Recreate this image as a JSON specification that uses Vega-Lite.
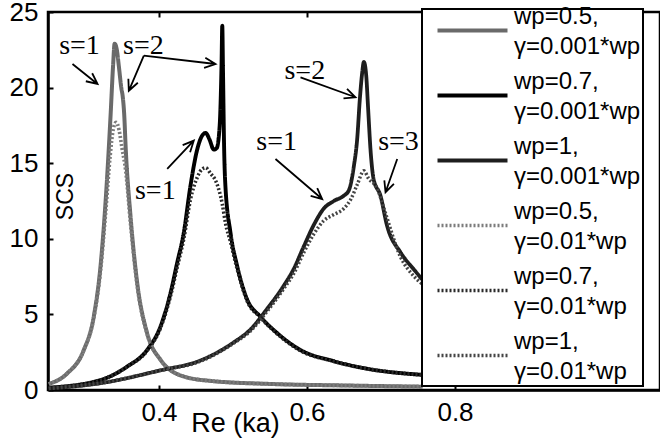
{
  "$schema": "https://vega.github.io/schema/vega-lite/v6.json",
  "autosize": {"type": "none"},
  "padding": {"left": 48, "top": 12, "right": 0, "bottom": 52},
  "width": 612,
  "height": 378,
  "background": "white",
  "config": {
    "view": {"stroke": "black", "strokeWidth": 2.5},
    "axis": {
      "labelFont": "Liberation Sans", "labelFontSize": 26, "labelColor": "black",
      "titleFont": "Liberation Sans", "titleFontSize": 25, "titleFontWeight": "normal", "titleColor": "black",
      "domainColor": "black", "domainWidth": 2.5, "tickColor": "black", "tickWidth": 2, "tickSize": -5, "grid": false
    },
    "legend": {
      "orient": "none", "legendX": 374, "legendY": -3,
      "fillColor": "white", "strokeColor": "black", "padding": 2,
      "symbolType": "M-2,0H2", "symbolSize": 1225, "symbolOffset": 29,
      "labelFont": "Liberation Sans", "labelFontSize": 24, "labelColor": "black",
      "labelOffset": 46, "rowPadding": 10, "labelLimit": 400
    }
  },
  "datasets": {
    "curves": [
      {"s": "wp=0.5, γ=0.001*wp", "x": 0.251, "y": 0.4},
      {"s": "wp=0.5, γ=0.001*wp", "x": 0.276, "y": 1.1},
      {"s": "wp=0.5, γ=0.001*wp", "x": 0.298, "y": 2.6},
      {"s": "wp=0.5, γ=0.001*wp", "x": 0.312, "y": 4.9},
      {"s": "wp=0.5, γ=0.001*wp", "x": 0.321, "y": 8.2},
      {"s": "wp=0.5, γ=0.001*wp", "x": 0.328, "y": 12.6},
      {"s": "wp=0.5, γ=0.001*wp", "x": 0.3345, "y": 18.1},
      {"s": "wp=0.5, γ=0.001*wp", "x": 0.338, "y": 21.5},
      {"s": "wp=0.5, γ=0.001*wp", "x": 0.340, "y": 22.9},
      {"s": "wp=0.5, γ=0.001*wp", "x": 0.343, "y": 22.5},
      {"s": "wp=0.5, γ=0.001*wp", "x": 0.346, "y": 21.3},
      {"s": "wp=0.5, γ=0.001*wp", "x": 0.349, "y": 20.0},
      {"s": "wp=0.5, γ=0.001*wp", "x": 0.351, "y": 19.4},
      {"s": "wp=0.5, γ=0.001*wp", "x": 0.353, "y": 18.2},
      {"s": "wp=0.5, γ=0.001*wp", "x": 0.355, "y": 16.0},
      {"s": "wp=0.5, γ=0.001*wp", "x": 0.3615, "y": 11.5},
      {"s": "wp=0.5, γ=0.001*wp", "x": 0.3705, "y": 7.1},
      {"s": "wp=0.5, γ=0.001*wp", "x": 0.384, "y": 3.75},
      {"s": "wp=0.5, γ=0.001*wp", "x": 0.402, "y": 2.0},
      {"s": "wp=0.5, γ=0.001*wp", "x": 0.433, "y": 0.9},
      {"s": "wp=0.5, γ=0.001*wp", "x": 0.47, "y": 0.6},
      {"s": "wp=0.5, γ=0.001*wp", "x": 0.55, "y": 0.4},
      {"s": "wp=0.5, γ=0.001*wp", "x": 0.65, "y": 0.3},
      {"s": "wp=0.5, γ=0.001*wp", "x": 0.756, "y": 0.22},

      {"s": "wp=0.7, γ=0.001*wp", "x": 0.251, "y": 0.15},
      {"s": "wp=0.7, γ=0.001*wp", "x": 0.321, "y": 0.66},
      {"s": "wp=0.7, γ=0.001*wp", "x": 0.357, "y": 1.55},
      {"s": "wp=0.7, γ=0.001*wp", "x": 0.384, "y": 2.65},
      {"s": "wp=0.7, γ=0.001*wp", "x": 0.402, "y": 4.2},
      {"s": "wp=0.7, γ=0.001*wp", "x": 0.4155, "y": 6.4},
      {"s": "wp=0.7, γ=0.001*wp", "x": 0.4245, "y": 8.4},
      {"s": "wp=0.7, γ=0.001*wp", "x": 0.4335, "y": 10.4},
      {"s": "wp=0.7, γ=0.001*wp", "x": 0.4425, "y": 13.5},
      {"s": "wp=0.7, γ=0.001*wp", "x": 0.4516, "y": 15.9},
      {"s": "wp=0.7, γ=0.001*wp", "x": 0.458, "y": 16.8},
      {"s": "wp=0.7, γ=0.001*wp", "x": 0.463, "y": 17.0},
      {"s": "wp=0.7, γ=0.001*wp", "x": 0.468, "y": 16.6},
      {"s": "wp=0.7, γ=0.001*wp", "x": 0.474, "y": 15.9},
      {"s": "wp=0.7, γ=0.001*wp", "x": 0.478, "y": 16.0},
      {"s": "wp=0.7, γ=0.001*wp", "x": 0.482, "y": 17.5},
      {"s": "wp=0.7, γ=0.001*wp", "x": 0.4845, "y": 21.5},
      {"s": "wp=0.7, γ=0.001*wp", "x": 0.4855, "y": 24.1},
      {"s": "wp=0.7, γ=0.001*wp", "x": 0.4865, "y": 21.0},
      {"s": "wp=0.7, γ=0.001*wp", "x": 0.488, "y": 16.0},
      {"s": "wp=0.7, γ=0.001*wp", "x": 0.4895, "y": 13.7},
      {"s": "wp=0.7, γ=0.001*wp", "x": 0.4966, "y": 10.4},
      {"s": "wp=0.7, γ=0.001*wp", "x": 0.5056, "y": 8.2},
      {"s": "wp=0.7, γ=0.001*wp", "x": 0.519, "y": 6.0},
      {"s": "wp=0.7, γ=0.001*wp", "x": 0.537, "y": 4.85},
      {"s": "wp=0.7, γ=0.001*wp", "x": 0.56, "y": 3.75},
      {"s": "wp=0.7, γ=0.001*wp", "x": 0.591, "y": 2.65},
      {"s": "wp=0.7, γ=0.001*wp", "x": 0.6365, "y": 1.9},
      {"s": "wp=0.7, γ=0.001*wp", "x": 0.682, "y": 1.4},
      {"s": "wp=0.7, γ=0.001*wp", "x": 0.756, "y": 1.0},

      {"s": "wp=1, γ=0.001*wp", "x": 0.251, "y": 0.1},
      {"s": "wp=1, γ=0.001*wp", "x": 0.321, "y": 0.45},
      {"s": "wp=1, γ=0.001*wp", "x": 0.402, "y": 1.3},
      {"s": "wp=1, γ=0.001*wp", "x": 0.456, "y": 1.95},
      {"s": "wp=1, γ=0.001*wp", "x": 0.501, "y": 3.15},
      {"s": "wp=1, γ=0.001*wp", "x": 0.5236, "y": 4.0},
      {"s": "wp=1, γ=0.001*wp", "x": 0.546, "y": 5.36},
      {"s": "wp=1, γ=0.001*wp", "x": 0.5686, "y": 6.9},
      {"s": "wp=1, γ=0.001*wp", "x": 0.582, "y": 8.0},
      {"s": "wp=1, γ=0.001*wp", "x": 0.5957, "y": 9.5},
      {"s": "wp=1, γ=0.001*wp", "x": 0.609, "y": 10.9},
      {"s": "wp=1, γ=0.001*wp", "x": 0.6227, "y": 12.0},
      {"s": "wp=1, γ=0.001*wp", "x": 0.6362, "y": 12.5},
      {"s": "wp=1, γ=0.001*wp", "x": 0.6497, "y": 12.85},
      {"s": "wp=1, γ=0.001*wp", "x": 0.6565, "y": 13.2},
      {"s": "wp=1, γ=0.001*wp", "x": 0.6633, "y": 14.8},
      {"s": "wp=1, γ=0.001*wp", "x": 0.6678, "y": 16.6},
      {"s": "wp=1, γ=0.001*wp", "x": 0.6714, "y": 19.25},
      {"s": "wp=1, γ=0.001*wp", "x": 0.6746, "y": 21.0},
      {"s": "wp=1, γ=0.001*wp", "x": 0.6768, "y": 21.7},
      {"s": "wp=1, γ=0.001*wp", "x": 0.680, "y": 20.8},
      {"s": "wp=1, γ=0.001*wp", "x": 0.6826, "y": 18.6},
      {"s": "wp=1, γ=0.001*wp", "x": 0.6858, "y": 15.9},
      {"s": "wp=1, γ=0.001*wp", "x": 0.690, "y": 13.95},
      {"s": "wp=1, γ=0.001*wp", "x": 0.6993, "y": 12.85},
      {"s": "wp=1, γ=0.001*wp", "x": 0.708, "y": 10.9},
      {"s": "wp=1, γ=0.001*wp", "x": 0.7264, "y": 9.1},
      {"s": "wp=1, γ=0.001*wp", "x": 0.744, "y": 8.0},
      {"s": "wp=1, γ=0.001*wp", "x": 0.756, "y": 7.3},

      {"s": "wp=0.5, γ=0.01*wp", "x": 0.251, "y": 0.4},
      {"s": "wp=0.5, γ=0.01*wp", "x": 0.276, "y": 1.1},
      {"s": "wp=0.5, γ=0.01*wp", "x": 0.298, "y": 2.6},
      {"s": "wp=0.5, γ=0.01*wp", "x": 0.312, "y": 4.8},
      {"s": "wp=0.5, γ=0.01*wp", "x": 0.321, "y": 7.9},
      {"s": "wp=0.5, γ=0.01*wp", "x": 0.328, "y": 11.8},
      {"s": "wp=0.5, γ=0.01*wp", "x": 0.334, "y": 15.5},
      {"s": "wp=0.5, γ=0.01*wp", "x": 0.338, "y": 17.2},
      {"s": "wp=0.5, γ=0.01*wp", "x": 0.342, "y": 17.7},
      {"s": "wp=0.5, γ=0.01*wp", "x": 0.346, "y": 17.2},
      {"s": "wp=0.5, γ=0.01*wp", "x": 0.350, "y": 16.0},
      {"s": "wp=0.5, γ=0.01*wp", "x": 0.355, "y": 14.5},
      {"s": "wp=0.5, γ=0.01*wp", "x": 0.3615, "y": 11.0},
      {"s": "wp=0.5, γ=0.01*wp", "x": 0.3705, "y": 6.9},
      {"s": "wp=0.5, γ=0.01*wp", "x": 0.384, "y": 3.7},
      {"s": "wp=0.5, γ=0.01*wp", "x": 0.402, "y": 2.0},
      {"s": "wp=0.5, γ=0.01*wp", "x": 0.433, "y": 0.9},
      {"s": "wp=0.5, γ=0.01*wp", "x": 0.47, "y": 0.6},
      {"s": "wp=0.5, γ=0.01*wp", "x": 0.55, "y": 0.4},
      {"s": "wp=0.5, γ=0.01*wp", "x": 0.65, "y": 0.3},
      {"s": "wp=0.5, γ=0.01*wp", "x": 0.756, "y": 0.22},

      {"s": "wp=0.7, γ=0.01*wp", "x": 0.251, "y": 0.15},
      {"s": "wp=0.7, γ=0.01*wp", "x": 0.321, "y": 0.66},
      {"s": "wp=0.7, γ=0.01*wp", "x": 0.357, "y": 1.55},
      {"s": "wp=0.7, γ=0.01*wp", "x": 0.384, "y": 2.6},
      {"s": "wp=0.7, γ=0.01*wp", "x": 0.402, "y": 4.1},
      {"s": "wp=0.7, γ=0.01*wp", "x": 0.4155, "y": 6.2},
      {"s": "wp=0.7, γ=0.01*wp", "x": 0.4245, "y": 8.1},
      {"s": "wp=0.7, γ=0.01*wp", "x": 0.4335, "y": 10.0},
      {"s": "wp=0.7, γ=0.01*wp", "x": 0.4425, "y": 12.6},
      {"s": "wp=0.7, γ=0.01*wp", "x": 0.452, "y": 14.1},
      {"s": "wp=0.7, γ=0.01*wp", "x": 0.458, "y": 14.6},
      {"s": "wp=0.7, γ=0.01*wp", "x": 0.463, "y": 14.7},
      {"s": "wp=0.7, γ=0.01*wp", "x": 0.47, "y": 14.3},
      {"s": "wp=0.7, γ=0.01*wp", "x": 0.476, "y": 13.9},
      {"s": "wp=0.7, γ=0.01*wp", "x": 0.4855, "y": 12.3},
      {"s": "wp=0.7, γ=0.01*wp", "x": 0.49, "y": 11.0},
      {"s": "wp=0.7, γ=0.01*wp", "x": 0.4966, "y": 9.8},
      {"s": "wp=0.7, γ=0.01*wp", "x": 0.5056, "y": 8.0},
      {"s": "wp=0.7, γ=0.01*wp", "x": 0.519, "y": 5.9},
      {"s": "wp=0.7, γ=0.01*wp", "x": 0.537, "y": 4.8},
      {"s": "wp=0.7, γ=0.01*wp", "x": 0.56, "y": 3.7},
      {"s": "wp=0.7, γ=0.01*wp", "x": 0.591, "y": 2.6},
      {"s": "wp=0.7, γ=0.01*wp", "x": 0.6365, "y": 1.9},
      {"s": "wp=0.7, γ=0.01*wp", "x": 0.682, "y": 1.4},
      {"s": "wp=0.7, γ=0.01*wp", "x": 0.756, "y": 1.0},

      {"s": "wp=1, γ=0.01*wp", "x": 0.251, "y": 0.1},
      {"s": "wp=1, γ=0.01*wp", "x": 0.321, "y": 0.45},
      {"s": "wp=1, γ=0.01*wp", "x": 0.402, "y": 1.3},
      {"s": "wp=1, γ=0.01*wp", "x": 0.456, "y": 1.9},
      {"s": "wp=1, γ=0.01*wp", "x": 0.501, "y": 3.1},
      {"s": "wp=1, γ=0.01*wp", "x": 0.5236, "y": 3.9},
      {"s": "wp=1, γ=0.01*wp", "x": 0.546, "y": 5.2},
      {"s": "wp=1, γ=0.01*wp", "x": 0.5686, "y": 6.7},
      {"s": "wp=1, γ=0.01*wp", "x": 0.582, "y": 7.7},
      {"s": "wp=1, γ=0.01*wp", "x": 0.5957, "y": 9.1},
      {"s": "wp=1, γ=0.01*wp", "x": 0.609, "y": 10.3},
      {"s": "wp=1, γ=0.01*wp", "x": 0.6227, "y": 11.2},
      {"s": "wp=1, γ=0.01*wp", "x": 0.6362, "y": 11.6},
      {"s": "wp=1, γ=0.01*wp", "x": 0.6497, "y": 12.0},
      {"s": "wp=1, γ=0.01*wp", "x": 0.659, "y": 12.6},
      {"s": "wp=1, γ=0.01*wp", "x": 0.668, "y": 13.6},
      {"s": "wp=1, γ=0.01*wp", "x": 0.6768, "y": 14.5},
      {"s": "wp=1, γ=0.01*wp", "x": 0.683, "y": 14.0},
      {"s": "wp=1, γ=0.01*wp", "x": 0.6952, "y": 13.3},
      {"s": "wp=1, γ=0.01*wp", "x": 0.704, "y": 12.0},
      {"s": "wp=1, γ=0.01*wp", "x": 0.7264, "y": 8.8},
      {"s": "wp=1, γ=0.01*wp", "x": 0.744, "y": 7.55},
      {"s": "wp=1, γ=0.01*wp", "x": 0.756, "y": 7.0}
    ],
    "notes": [
      {"t": "s=1", "x": 0.2926, "y": 22.75},
      {"t": "s=2", "x": 0.379, "y": 22.75},
      {"t": "s=1", "x": 0.395, "y": 13.16},
      {"t": "s=2", "x": 0.597, "y": 21.1},
      {"t": "s=1", "x": 0.559, "y": 16.4},
      {"t": "s=3", "x": 0.7236, "y": 16.4}
    ],
    "arrows": [
      {"a": 1, "o": 1, "x": 0.2831, "y": 21.56},
      {"a": 1, "o": 2, "x": 0.3169, "y": 20.24},
      {"a": 1, "o": 3, "x": 0.3097, "y": 20.95},
      {"a": 1, "o": 4, "x": 0.3169, "y": 20.24},
      {"a": 1, "o": 5, "x": 0.3011, "y": 20.42},
      {"a": 2, "o": 1, "x": 0.3795, "y": 22.11},
      {"a": 2, "o": 2, "x": 0.3592, "y": 19.79},
      {"a": 2, "o": 3, "x": 0.3714, "y": 20.32},
      {"a": 2, "o": 4, "x": 0.3592, "y": 19.79},
      {"a": 2, "o": 5, "x": 0.3586, "y": 20.59},
      {"a": 3, "o": 1, "x": 0.3795, "y": 22.11},
      {"a": 3, "o": 2, "x": 0.4764, "y": 21.56},
      {"a": 3, "o": 3, "x": 0.4626, "y": 21.98},
      {"a": 3, "o": 4, "x": 0.4764, "y": 21.56},
      {"a": 3, "o": 5, "x": 0.4609, "y": 21.31},
      {"a": 4, "o": 1, "x": 0.4111, "y": 14.62},
      {"a": 4, "o": 2, "x": 0.4470, "y": 16.49},
      {"a": 4, "o": 3, "x": 0.4320, "y": 16.19},
      {"a": 4, "o": 4, "x": 0.4470, "y": 16.49},
      {"a": 4, "o": 5, "x": 0.4420, "y": 15.73},
      {"a": 5, "o": 1, "x": 0.5912, "y": 20.68},
      {"a": 5, "o": 2, "x": 0.6655, "y": 19.36},
      {"a": 5, "o": 3, "x": 0.6541, "y": 19.92},
      {"a": 5, "o": 4, "x": 0.6655, "y": 19.36},
      {"a": 5, "o": 5, "x": 0.6493, "y": 19.29},
      {"a": 6, "o": 1, "x": 0.5574, "y": 15.28},
      {"a": 6, "o": 2, "x": 0.6205, "y": 12.63},
      {"a": 6, "o": 3, "x": 0.6138, "y": 13.35},
      {"a": 6, "o": 4, "x": 0.6205, "y": 12.63},
      {"a": 6, "o": 5, "x": 0.6049, "y": 12.84},
      {"a": 7, "o": 1, "x": 0.7219, "y": 15.28},
      {"a": 7, "o": 2, "x": 0.7061, "y": 13.08},
      {"a": 7, "o": 3, "x": 0.7174, "y": 13.64},
      {"a": 7, "o": 4, "x": 0.7061, "y": 13.08},
      {"a": 7, "o": 5, "x": 0.7045, "y": 13.86}
    ]
  },
  "resolve": {"axis": {"x": "independent"}},
  "layer": [
    {
      "data": {"name": "curves"},
      "transform": [{"filter": "indexof(datum.s, '0.001') >= 0"}],
      "mark": {"type": "line", "interpolate": "monotone", "strokeCap": "butt"},
      "encoding": {
        "x": {"field": "x", "type": "quantitative", "scale": {"domain": [0.25, 1.077], "nice": false, "zero": false},
              "axis": {"values": [0.4, 0.6, 0.8], "format": ".1f", "labelPadding": 14, "title": "Re (ka)", "titleX": 187, "titleY": 33, "titleBaseline": "middle", "titleAlign": "center", "titleFontSize": 27}},
        "y": {"field": "y", "type": "quantitative", "scale": {"domain": [0, 25], "nice": false},
              "axis": {"values": [0, 5, 10, 15, 20, 25], "labelPadding": 15, "title": "SCS", "titleX": 17, "titleY": 184, "titleAngle": -90, "titleAlign": "center", "titleBaseline": "middle", "titleFontSize": 23}},
        "color": {"field": "s", "type": "nominal",
          "scale": {"domain": ["wp=0.5, γ=0.001*wp", "wp=0.7, γ=0.001*wp", "wp=1, γ=0.001*wp", "wp=0.5, γ=0.01*wp", "wp=0.7, γ=0.01*wp", "wp=1, γ=0.01*wp"],
                    "range": ["#6a6a6a", "#000000", "#1e1e1e", "#7c7c7c", "#2a2a2a", "#454545"]},
          "legend": {"title": null, "labelExpr": "[split(datum.label, ' ')[0], split(datum.label, ' ')[1]]", "encode": {"labels": {"update": {"lineHeight": {"value": 30}, "dy": {"value": -14}, "dx": {"value": -24}}}, "legend": {"update": {"strokeWidth": {"value": 2}}}}}},
        "strokeDash": {"field": "s", "type": "nominal",
          "scale": {"domain": ["wp=0.5, γ=0.001*wp", "wp=0.7, γ=0.001*wp", "wp=1, γ=0.001*wp", "wp=0.5, γ=0.01*wp", "wp=0.7, γ=0.01*wp", "wp=1, γ=0.01*wp"],
                    "range": [[1, 0], [1, 0], [1, 0], [2, 2], [2, 2], [2, 2]]},
          "legend": {"title": null, "labelExpr": "[split(datum.label, ' ')[0], split(datum.label, ' ')[1]]", "encode": {"labels": {"update": {"lineHeight": {"value": 30}, "dy": {"value": -14}, "dx": {"value": -24}}}, "legend": {"update": {"strokeWidth": {"value": 2}}}}}},
        "strokeWidth": {"field": "s", "type": "nominal",
          "scale": {"domain": ["wp=0.5, γ=0.001*wp", "wp=0.7, γ=0.001*wp", "wp=1, γ=0.001*wp", "wp=0.5, γ=0.01*wp", "wp=0.7, γ=0.01*wp", "wp=1, γ=0.01*wp"],
                    "range": [4, 3.5, 3, 3.5, 3.5, 3]},
          "legend": {"title": null, "labelExpr": "[split(datum.label, ' ')[0], split(datum.label, ' ')[1]]", "encode": {"labels": {"update": {"lineHeight": {"value": 30}, "dy": {"value": -14}, "dx": {"value": -24}}}, "legend": {"update": {"strokeWidth": {"value": 2}}}}}}
      }
    },
    {
      "data": {"name": "curves"},
      "transform": [{"filter": "indexof(datum.s, '0.001') < 0"}],
      "mark": {"type": "line", "interpolate": "monotone", "strokeCap": "butt"},
      "encoding": {
        "x": {"field": "x", "type": "quantitative", "axis": null},
        "y": {"field": "y", "type": "quantitative", "title": "SCS"},
        "color": {"field": "s", "type": "nominal"},
        "strokeDash": {"field": "s", "type": "nominal"},
        "strokeWidth": {"field": "s", "type": "nominal"}
      }
    },
    {
      "data": {"name": "arrows"},
      "mark": {"type": "line", "color": "black", "strokeWidth": 1.8},
      "encoding": {
        "x": {"field": "x", "type": "quantitative", "axis": null},
        "y": {"field": "y", "type": "quantitative", "title": "SCS"},
        "detail": {"field": "a", "type": "nominal"},
        "order": {"field": "o", "type": "quantitative"}
      }
    },
    {
      "data": {"name": "notes"},
      "mark": {"type": "text", "font": "Liberation Serif", "fontSize": 28, "color": "black", "baseline": "middle", "align": "center"},
      "encoding": {
        "x": {"field": "x", "type": "quantitative",
              "axis": {"orient": "top", "values": [0.4, 0.6, 0.8], "labels": false, "domain": false, "title": null}},
        "y": {"field": "y", "type": "quantitative", "title": "SCS"},
        "text": {"field": "t"}
      }
    }
  ]
}
